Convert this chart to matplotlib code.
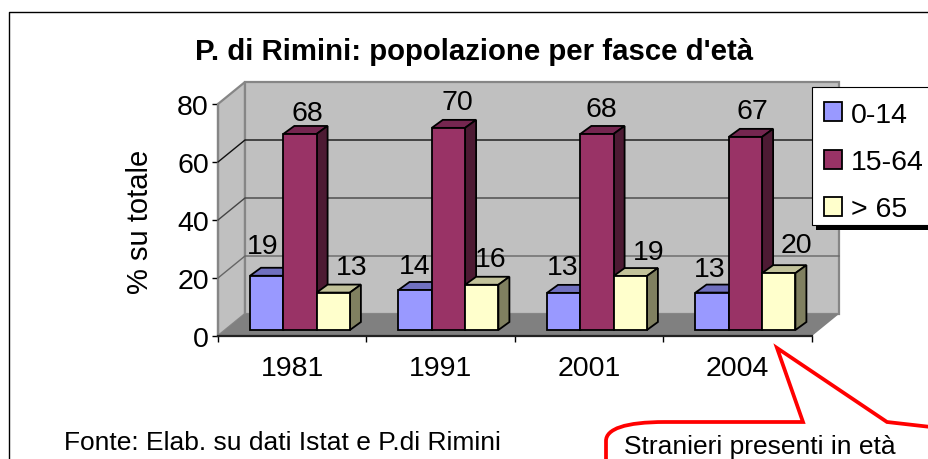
'''
P. di Rimini: popolazione per fasce d'eta, fake 3D bars in the old Excel style
'''
import matplotlib
matplotlib.use('Agg')
import numpy as np
import matplotlib.pyplot as plt
from matplotlib.lines import Line2D
from matplotlib.patches import PathPatch, Polygon, Rectangle
from matplotlib.path import Path
from matplotlib.transforms import Affine2D

plt.rcParams['font.family'] = ['Liberation Sans', 'DejaVu Sans']

YEARS = ['1981', '1991', '2001', '2004']
SERIES = ['0-14', '15-64', '> 65']
YOUNG = [18.7, 13.8, 12.8, 12.9]
ADULT = [67.6, 69.7, 67.6, 66.6]
OLD = [12.9, 15.6, 18.6, 19.6]
YTICKS = [0, 20, 40, 60, 80]
TITLE = "P. di Rimini: popolazione per fasce d'età"
SOURCE = 'Fonte: Elab. su dati Istat e P.di Rimini'
NOTE = 'Stranieri presenti in età'

COLORS = ['#9999FF', '#993366', '#FFFFCC']
TOPS = ['#7070BF', '#752650', '#C2C29A']
SIDES = ['#4D4D80', '#4D1A33', '#808060']
# the labels were moved by hand in the original: pixel offset from the bar top
LABEL_DX = [[-4, 0, -1, -2], [7, 9, 4, 7], [18, 9, 18, 18]]
LABEL_DY = [[30, 24, 26, 24], [21, 26, 25, 26], [26, 26, 24, 28]]

W, H = 929, 460
FS = 20.5

# front plane of the chart, in pixels
LEFT, RIGHT, TOP, BOTTOM = 218, 812, 105, 337
PX_X = (RIGHT - LEFT) / len(YEARS)
PX_Y = (BOTTOM - TOP) / 80


def px(x):
    return x / PX_X


def py(y):
    return y / PX_Y


fig = plt.figure(figsize=(W / 100, H / 100), dpi=100)
ax = fig.add_axes([LEFT / W, 1 - BOTTOM / H, (RIGHT - LEFT) / W, (BOTTOM - TOP) / H])
ax.set_xlim(0, len(YEARS))
ax.set_ylim(0, 80)
ax.patch.set_visible(False)
for name in ['top', 'right', 'left']:
    ax.spines[name].set_visible(False)
ax.spines['bottom'].set_linewidth(1.6)
ax.spines['bottom'].set_color('#222222')

# walls and floor
DX, DY = px(27), py(22)
N = len(YEARS)
wall_kw = dict(edgecolor='#868686', linewidth=1.6, clip_on=False, zorder=1)
ax.add_patch(Polygon([(0, 0), (DX, DY), (DX, 80 + DY), (0, 80)],
                     facecolor='#C0C0C0', **wall_kw))
ax.add_patch(Polygon([(DX, DY), (N + DX, DY), (N + DX, 80 + DY), (DX, 80 + DY)],
                     facecolor='#C0C0C0', **wall_kw))
ax.add_patch(Polygon([(0, 0), (N, 0), (N + DX, DY), (DX, DY)],
                     facecolor='#808080', edgecolor='none', clip_on=False, zorder=1))
ax.plot([0, 0], [0, 80], color='#868686', lw=1.6, zorder=2, clip_on=False)
for tick, col in zip(YTICKS[1:4], ['#666666', '#444444', '#111111']):
    ax.plot([0, DX, N + DX], [tick, tick + DY, tick + DY], color=col, lw=1.0,
            zorder=2, clip_on=False)

# bars, series by series so the next one covers the side of the previous
BAR_W = px(33.3)
BAR_DX, BAR_DY = px(11), py(8)
START = px(32)
BASE = py(6)
for j, vals in enumerate([YOUNG, ADULT, OLD]):
    z = 3 + j
    xs = np.arange(N) + START + j * BAR_W
    for x, v in zip(xs, vals):
        top = BASE + v
        ax.add_patch(Polygon([(x, top), (x + BAR_W, top), (x + BAR_W + BAR_DX, top + BAR_DY),
                              (x + BAR_DX, top + BAR_DY)], facecolor=TOPS[j], edgecolor='black',
                             linewidth=1.3, zorder=z, clip_on=False, joinstyle='miter'))
        ax.add_patch(Polygon([(x + BAR_W, BASE), (x + BAR_W + BAR_DX, BASE + BAR_DY),
                              (x + BAR_W + BAR_DX, top + BAR_DY), (x + BAR_W, top)],
                             facecolor=SIDES[j], edgecolor='black', linewidth=1.3, zorder=z,
                             clip_on=False, joinstyle='miter'))
    ax.bar(xs, vals, BAR_W, bottom=BASE, align='edge', color=COLORS[j], edgecolor='black',
           linewidth=1.3, zorder=z, label=SERIES[j])
    for i, (x, v) in enumerate(zip(xs, vals)):
        ax.annotate('{:.0f}'.format(v), (x + BAR_W / 2, BASE + v),
                    xytext=(LABEL_DX[j][i] * 0.72, LABEL_DY[j][i] * 0.72),
                    textcoords='offset points', ha='center', va='center', fontsize=FS,
                    color='black', zorder=10)

# ticks
ax.set_yticks(YTICKS)
ax.set_xticks(np.arange(N + 1))
ax.set_xticklabels([])
ax.set_xticks(np.arange(N) + 0.5, YEARS, minor=True)
ax.tick_params(axis='y', labelsize=FS, length=4.5, width=1, pad=2)
ax.tick_params(axis='x', which='major', length=4.5, width=1)
ax.tick_params(axis='x', which='minor', length=0, labelsize=FS, pad=14)

fig.text(140 / W, 1 - 222 / H, '% su totale', rotation=90, ha='center', va='center', fontsize=21)
fig.text(474 / W, 1 - 52 / H, TITLE, ha='center', va='center', fontsize=21.2, fontweight='bold')
fig.text(64 / W, 1 - 443 / H, SOURCE, ha='left', va='center', fontsize=19)
fig.text(624 / W, 1 - 447 / H, NOTE, ha='left', va='center', fontsize=19)

# pixel transform, from the top left corner, for the frame, legend box and callout
to_px = Affine2D().scale(1 / W, -1 / H).translate(0, 1) + fig.transFigure

# legend box is drawn apart: it is cut by the edge of the picture and has less room below
ax.add_patch(Rectangle((816, 92), 120, 139, facecolor='black', edgecolor='none',
                       transform=to_px, clip_on=False, zorder=18))
ax.add_patch(Rectangle((812, 88), 120, 138, facecolor='white', edgecolor='black', linewidth=0.8,
                       transform=to_px, clip_on=False, zorder=19))
handles, labels = ax.get_legend_handles_labels()
leg = ax.legend(handles, labels, loc='upper left', bbox_to_anchor=(810 / W, 1 - 89 / H),
                bbox_transform=fig.transFigure, borderaxespad=0, fontsize=FS, frameon=False,
                handlelength=0.65, handleheight=0.65, handletextpad=0.3, labelspacing=0.75,
                borderpad=0.48)
leg.set_zorder(20)

fig.add_artist(Line2D([9.5, 9.5, W], [H, 12.5, 12.5], color='black', lw=1.0, transform=to_px))
codes = [Path.MOVETO, Path.LINETO, Path.LINETO, Path.CURVE4, Path.CURVE4, Path.CURVE4,
         Path.LINETO, Path.LINETO, Path.LINETO, Path.LINETO]
verts = [(606, 462), (606, 450), (606, 442), (606, 430), (625, 423), (665, 423),
         (803, 423), (777, 349), (887, 423), (931, 428)]
fig.add_artist(PathPatch(Path(verts, codes), facecolor='none', edgecolor='#FF0000', lw=2.7,
                         transform=to_px, joinstyle='miter', zorder=30))

fig.savefig('out.png', dpi=100, facecolor='white')
